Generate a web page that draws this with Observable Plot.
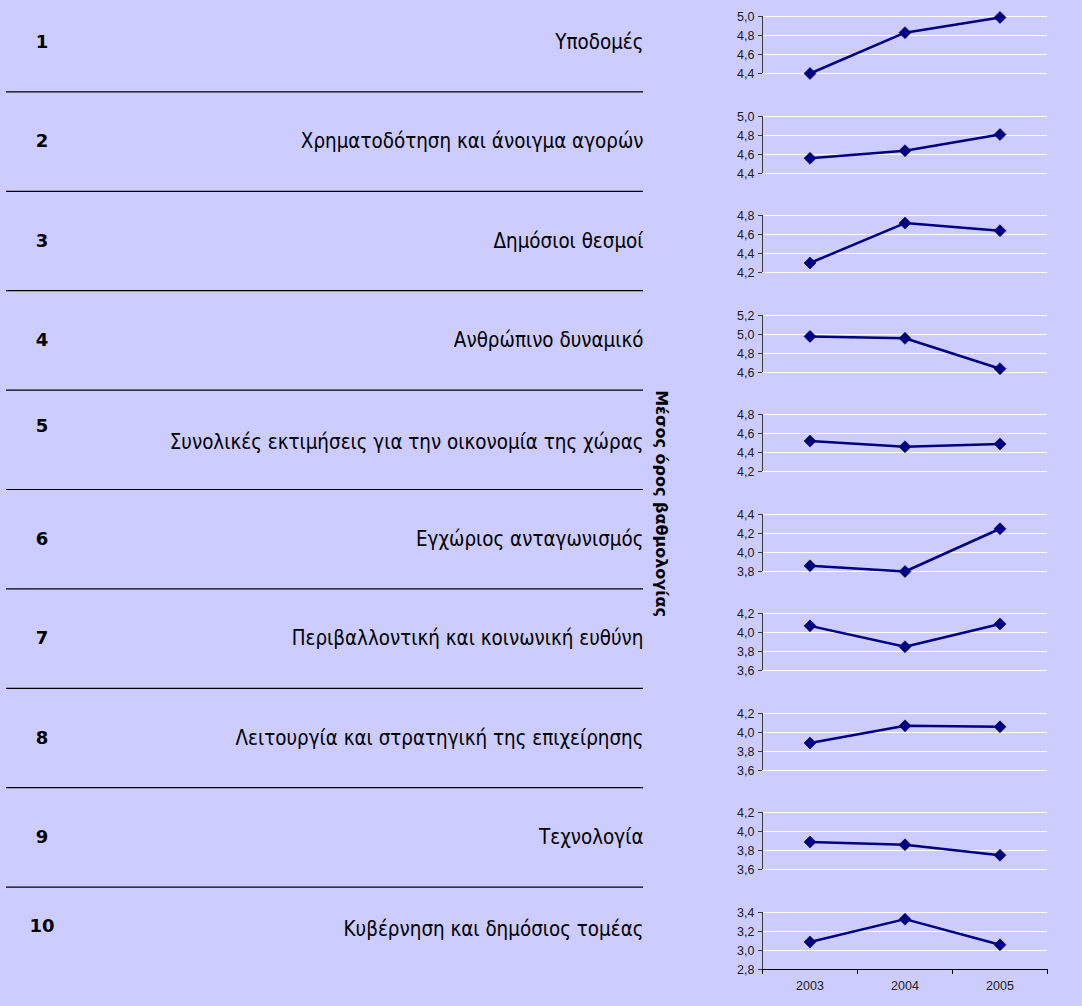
<!DOCTYPE html>
<html>
<head>
<meta charset="utf-8">
<script src="https://cdn.jsdelivr.net/npm/d3@7"></script>
<script src="https://cdn.jsdelivr.net/npm/@observablehq/plot@0.6"></script>
<style>
  html, body { margin: 0; padding: 0; background: #CCCCFF; }
  #page { position: relative; width: 1082px; height: 1006px; background: #CCCCFF; overflow: hidden; }
  #page svg { position: absolute; }
</style>
</head>
<body>
<div id="page"></div>
<script>
// ---------- data ----------
const rowIds = [1, 2, 3, 4, 5, 6, 7, 8, 9, 10];
const categories = [
  "Υποδομές",
  "Χρηματοδότηση και άνοιγμα αγορών",
  "Δημόσιοι θεσμοί",
  "Ανθρώπινο δυναμικό",
  "Συνολικές εκτιμήσεις για την οικονομία της χώρας",
  "Εγχώριος ανταγωνισμός",
  "Περιβαλλοντική και κοινωνική ευθύνη",
  "Λειτουργία και στρατηγική της επιχείρησης",
  "Τεχνολογία",
  "Κυβέρνηση και δημόσιος τομέας"
];
const years = [2003, 2004, 2005];
const score2003 = [4.40, 4.56, 4.30, 4.98, 4.52, 3.86, 4.07, 3.89, 3.89, 3.09];
const score2004 = [4.83, 4.64, 4.72, 4.96, 4.46, 3.80, 3.85, 4.07, 3.86, 3.33];
const score2005 = [4.99, 4.81, 4.64, 4.64, 4.49, 4.25, 4.09, 4.06, 3.75, 3.06];
const axisMin = [4.4, 4.4, 4.2, 4.6, 4.2, 3.8, 3.6, 3.6, 3.6, 2.8];
const axisMax = [5.0, 5.0, 4.8, 5.2, 4.8, 4.4, 4.2, 4.2, 4.2, 3.4];
const yTitle = "Μέσος όρος βαθμολογίας";

// ---------- styling ----------
const page = document.getElementById("page");
const labelFont = '"DejaVu Sans Condensed", "DejaVu Sans", sans-serif';
const boldFont = '"DejaVu Sans", sans-serif';
const tickFont = '"Liberation Sans", Arial, sans-serif';
const navy = "#000080";
const fmt = d => d.toFixed(1).replace(".", ",");

// small vertical nudges (in row units) reproducing the original cell alignment
const numberNudge = {5: -0.14, 10: -0.105};
const labelNudge = {5: 0.03, 10: -0.075};

const rows = rowIds.map((id, i) => ({id, label: categories[i]}));

// ---------- left table ----------
const left = Plot.plot({
  width: 700, height: 1006, margin: 0,
  style: {background: "transparent", overflow: "visible"},
  x: {domain: [0, 700], range: [0, 700], axis: null},
  y: {domain: [0.5, 10.5], range: [-8, 986], axis: null},
  marks: [
    Plot.ruleY(rowIds.slice(0, -1), {y: d => d + 0.5, x1: 6, x2: 643, stroke: "#000", strokeWidth: 1.2}),
    Plot.text(rows, {
      x: 41.5, y: d => d.id + (numberNudge[d.id] || 0), text: d => String(d.id),
      fontFamily: boldFont, fontWeight: "bold", fontSize: 18, fill: "#000", textAnchor: "middle"
    }),
    Plot.text(rows, {
      x: 643, y: d => d.id + (labelNudge[d.id] || 0), text: "label",
      fontFamily: labelFont, fontSize: 20.4, fill: "#000", textAnchor: "end"
    }),
    Plot.text([yTitle], {
      frameAnchor: "right", dx: -39, rotate: 90, text: d => d,
      fontFamily: boldFont, fontWeight: "bold", fontSize: 16, fill: "#000", textAnchor: "middle"
    })
  ]
});
left.style.left = "0px";
left.style.top = "0px";
page.appendChild(left);

// ---------- right sparkline panels ----------
const seriesByYear = [score2003, score2004, score2005];
rowIds.forEach((id, i) => {
  const last = i === rowIds.length - 1;
  const pts = years.map((yr, j) => ({year: yr, value: seriesByYear[j][i]}));
  const ticks = d3.ticks(axisMin[i], axisMax[i], 3);
  const mt = 8, mb = last ? 30 : 8, h = 57;
  const marks = [
    Plot.gridY(ticks, {stroke: "#ffffff", strokeOpacity: 1, strokeWidth: 1}),
    Plot.ruleX([2002.5], {y1: axisMin[i], y2: axisMax[i], stroke: "#3a3a3a", strokeWidth: 1}),
    Plot.axisY(ticks, {label: null, tickSize: 4, tickPadding: 4, tickFormat: fmt, stroke: "#3a3a3a", fill: "#1a1a1a"})
  ];
  if (last) {
    marks.push(
      Plot.ruleY([axisMin[i]], {stroke: "#000", strokeWidth: 1}),
      Plot.axisX([2002.5, 2003.5, 2004.5, 2005.5], {label: null, tickSize: 5, tickFormat: () => "", stroke: "#000"}),
      Plot.axisX(years, {label: null, tickSize: 0, tickPadding: 12, tickFormat: d => String(d), fill: "#1a1a1a"})
    );
  }
  marks.push(
    Plot.line(pts, {x: "year", y: "value", stroke: navy, strokeWidth: 2.5}),
    Plot.dot(pts, {x: "year", y: "value", symbol: "diamond2", r: 5.4, fill: navy, stroke: "#000060", strokeWidth: 0.6})
  );
  const chart = Plot.plot({
    width: 352, height: mt + h + mb,
    marginTop: mt, marginBottom: mb, marginLeft: 62, marginRight: 5,
    style: {background: "transparent", fontFamily: tickFont, fontSize: "12.5px", overflow: "visible"},
    x: {domain: [2002.5, 2005.5], axis: null},
    y: {domain: [axisMin[i], axisMax[i]], axis: null},
    marks
  });
  chart.style.left = "700px";
  chart.style.top = (16 + 99.5 * i - mt) + "px";
  page.appendChild(chart);
});
</script>
</body>
</html>
